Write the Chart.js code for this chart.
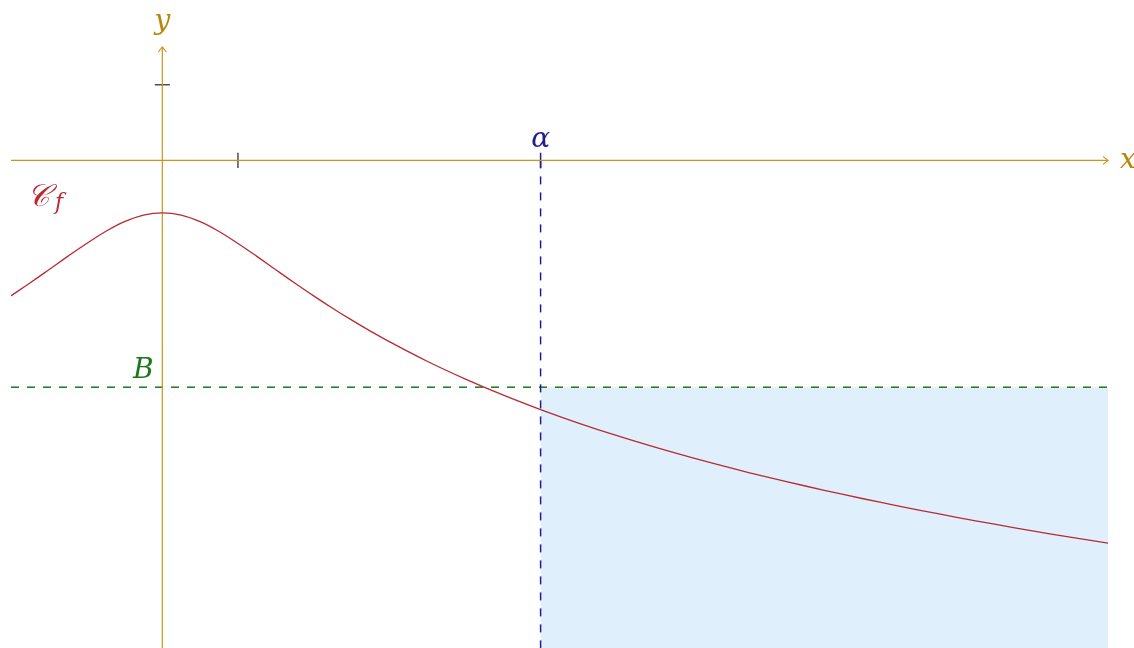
<!DOCTYPE html>
<html>
<head>
<meta charset="utf-8">
<style>
  html, body { margin: 0; padding: 0; background: #ffffff; }
  canvas { display: block; }
</style>
<script src="https://cdn.jsdelivr.net/npm/chart.js@4.4.1/dist/chart.umd.min.js"></script>
</head>
<body>
<canvas id="graph" width="1134" height="648"></canvas>
<script>
// Sample points of the curve C_f (denser around the maximum)
const xValues = [-2, -1.75, -1.5, -1.25, -1, -0.75, -0.5, -0.25, 0, 0.25, 0.5, 0.75, 1,
                 1.25, 1.5, 1.75, 2, 2.25, 2.5, 2.75, 3, 3.5, 4, 4.5, 5, 5.5, 6,
                 6.5, 7, 7.5, 8, 8.5, 9, 9.5, 10, 10.5, 11, 11.5, 12, 12.5];
const fValues = [-1.792, -1.622, -1.447, -1.270, -1.099, -0.941, -0.811, -0.724, -0.693,
                 -0.724, -0.811, -0.941, -1.099, -1.270, -1.447, -1.622, -1.792, -1.955,
                 -2.110, -2.258, -2.398, -2.657, -2.890, -3.102, -3.296, -3.474, -3.638,
                 -3.790, -3.932, -4.065, -4.190, -4.307, -4.419, -4.524, -4.625, -4.721,
                 -4.812, -4.900, -4.984, -5.064];

// Remarkable values
const alpha = 5;
const B = -3;

// Window and unit ticks
const xRange = [-2, 12.5];
const yRange = [-6.45, 1.5];
const xTicks = [1];
const yTicks = [1];
const tickHalf = 0.1;

const AXIS = '#c8961e';
const AXIS_TEXT = '#b8860b';
const CURVE = '#b82a32';
const NAVY = '#1f1f8f';
const GREEN = '#1b781b';
const SHADE = '#dff0fc';

const curvePts = xValues.map((x, i) => ({ x, y: fValues[i] }));

const seg = (a, b, color, extra) => Object.assign({
  type: 'line',
  data: [a, b],
  borderColor: color,
  borderWidth: 1.2,
  pointRadius: 0,
  fill: false,
  tension: 0
}, extra || {});

const datasets = [
  // curve on top
  {
    type: 'line',
    data: curvePts,
    borderColor: CURVE,
    borderWidth: 1.3,
    pointRadius: 0,
    fill: false,
    tension: 0.4,
    order: 0
  },
  // axes
  seg({ x: xRange[0], y: 0 }, { x: xRange[1], y: 0 }, AXIS, { order: 1 }),
  seg({ x: 0, y: yRange[0] }, { x: 0, y: yRange[1] }, AXIS, { order: 1 }),
  // unit ticks
  ...xTicks.map(t => seg({ x: t, y: tickHalf }, { x: t, y: -tickHalf }, '#222222', { order: 1 })),
  ...yTicks.map(t => seg({ x: -tickHalf, y: t }, { x: tickHalf, y: t }, '#222222', { order: 1 })),
  // alpha mark and vertical dashed line
  seg({ x: alpha, y: tickHalf }, { x: alpha, y: -tickHalf }, NAVY, { order: 2, borderWidth: 1.5 }),
  seg({ x: alpha, y: 0 }, { x: alpha, y: yRange[0] }, NAVY, { order: 2, borderWidth: 1.5, borderDash: [8, 8] }),
  // horizontal dashed line y = B
  seg({ x: xRange[0], y: B }, { x: xRange[1], y: B }, GREEN, { order: 2, borderWidth: 1.5, borderDash: [8, 8] }),
  // shaded region x >= alpha, y <= B
  {
    type: 'line',
    data: [{ x: alpha, y: B }, { x: xRange[1], y: B }],
    borderWidth: 0,
    borderColor: 'rgba(0,0,0,0)',
    backgroundColor: SHADE,
    pointRadius: 0,
    fill: 'start',
    order: 3
  }
];

const decorations = {
  id: 'decorations',
  afterDraw(chart) {
    const { ctx, scales: { x: sx, y: sy } } = chart;
    const px = v => sx.getPixelForValue(v);
    const py = v => sy.getPixelForValue(v);
    ctx.save();

    // arrow heads
    ctx.strokeStyle = AXIS;
    ctx.lineWidth = 1.2;
    const xt = px(xRange[1]), yt0 = py(0);
    ctx.beginPath();
    ctx.moveTo(xt - 5, yt0 - 4);
    ctx.lineTo(xt, yt0);
    ctx.lineTo(xt - 5, yt0 + 4);
    ctx.stroke();
    const x0 = px(0), yt = py(yRange[1]);
    ctx.beginPath();
    ctx.moveTo(x0 - 4, yt + 5);
    ctx.lineTo(x0, yt);
    ctx.lineTo(x0 + 4, yt + 5);
    ctx.stroke();

    // labels
    ctx.textBaseline = 'alphabetic';
    ctx.font = 'italic 28px "DejaVu Serif"';
    ctx.fillStyle = AXIS_TEXT;
    ctx.textAlign = 'center';
    ctx.fillText('y', x0, 29);
    ctx.textAlign = 'left';
    ctx.fillText('x', xt + 12, yt0 + 8);

    ctx.fillStyle = NAVY;
    ctx.textAlign = 'center';
    ctx.fillText('α', px(alpha), yt0 - 13);

    ctx.fillStyle = GREEN;
    ctx.fillText('B', px(0) - 19, py(B) - 9);

    ctx.fillStyle = CURVE;
    ctx.textAlign = 'left';
    ctx.font = 'italic 31px "DejaVu Serif", "DejaVu Sans", serif';
    ctx.fillText('𝒞', 27, 206);
    ctx.font = 'italic 22px "DejaVu Serif"';
    ctx.fillText('f', 55, 209);

    ctx.restore();
  }
};

new Chart(document.getElementById('graph'), {
  type: 'line',
  data: { datasets },
  options: {
    responsive: false,
    animation: false,
    events: [],
    layout: { padding: { left: 11, right: 26, top: 47, bottom: 0 } },
    plugins: { legend: { display: false }, tooltip: { enabled: false } },
    scales: {
      x: { type: 'linear', min: xRange[0], max: xRange[1], display: false },
      y: { type: 'linear', min: yRange[0], max: yRange[1], display: false }
    }
  },
  plugins: [decorations]
});
</script>
</body>
</html>
